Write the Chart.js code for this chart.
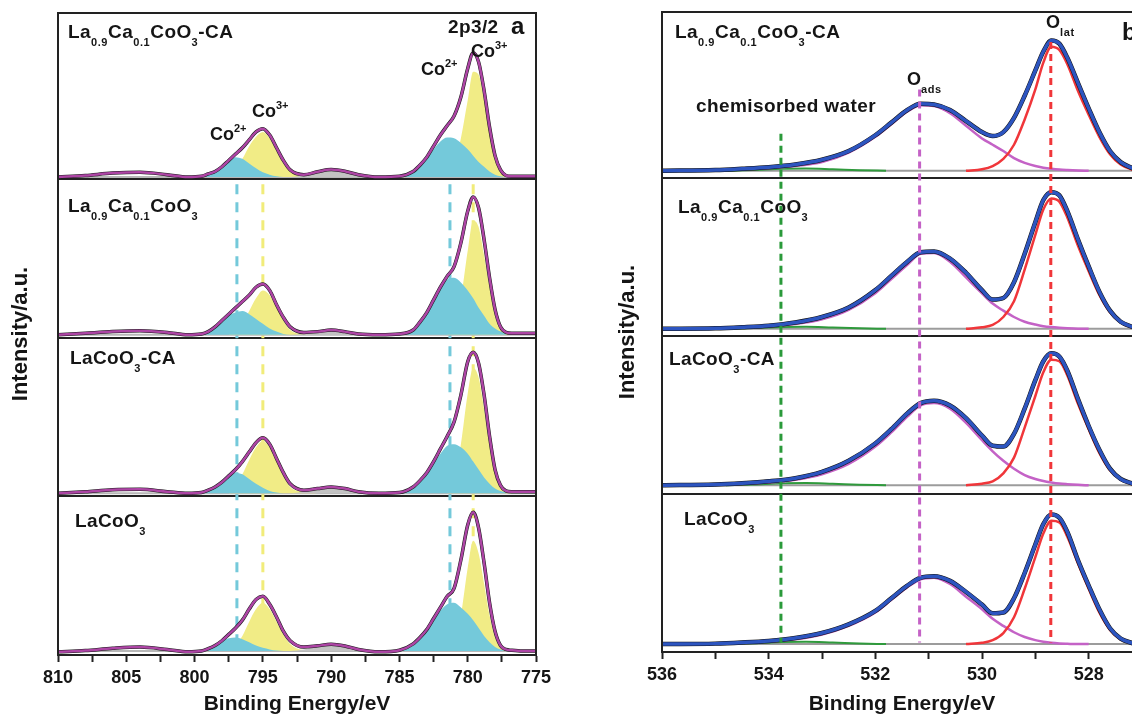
<!DOCTYPE html>
<html>
<head>
<meta charset="utf-8">
<script src="https://cdn.jsdelivr.net/npm/chart.js@4.4.0/dist/chart.umd.min.js"></script>
<style>
  body { margin: 0; width: 1132px; height: 718px; overflow: hidden; background: #fff; position: relative;
         font-family: "Liberation Sans", Arial, sans-serif; color: #151515; }
  canvas { position: absolute; top: 0; }
  #left { left: 0; }
  #right { left: 590px; }
  .t { position: absolute; font-weight: bold; font-size: 19px; line-height: 19px; letter-spacing: 0.4px; white-space: nowrap; }
  .t sub { font-size: 11px; vertical-align: -8px; line-height: 0; letter-spacing: 0.6px; }
  .t sup { font-size: 11px; vertical-align: 8px; line-height: 0; }
  .co { font-size: 18px; line-height: 18px; letter-spacing: 0; }
  .big { font-size: 24px; line-height: 24px; }
</style>
</head>
<body>
<canvas id="left" width="560" height="718"></canvas>
<canvas id="right" width="560" height="718"></canvas>

<!-- panel a labels -->
<div class="t" style="left:68px;top:22px">La<sub>0.9</sub>Ca<sub>0.1</sub>CoO<sub>3</sub>-CA</div>
<div class="t" style="left:68px;top:196px">La<sub>0.9</sub>Ca<sub>0.1</sub>CoO<sub>3</sub></div>
<div class="t" style="left:70px;top:348px">LaCoO<sub>3</sub>-CA</div>
<div class="t" style="left:75px;top:511px">LaCoO<sub>3</sub></div>
<div class="t" style="left:448px;top:17px">2p3/2</div>
<div class="t big" style="left:511px;top:14px">a</div>
<div class="t co" style="left:471px;top:42px">Co<sup>3+</sup></div>
<div class="t co" style="left:421px;top:60px">Co<sup>2+</sup></div>
<div class="t co" style="left:252px;top:102px">Co<sup>3+</sup></div>
<div class="t co" style="left:210px;top:125px">Co<sup>2+</sup></div>

<!-- panel b labels -->
<div class="t" style="left:675px;top:22px">La<sub>0.9</sub>Ca<sub>0.1</sub>CoO<sub>3</sub>-CA</div>
<div class="t" style="left:696px;top:96px">chemisorbed water</div>
<div class="t co" style="left:907px;top:70px">O<sub>ads</sub></div>
<div class="t co" style="left:1046px;top:13px">O<sub>lat</sub></div>
<div class="t big" style="left:1122px;top:20px">b</div>
<div class="t" style="left:678px;top:197px">La<sub>0.9</sub>Ca<sub>0.1</sub>CoO<sub>3</sub></div>
<div class="t" style="left:669px;top:349px">LaCoO<sub>3</sub>-CA</div>
<div class="t" style="left:684px;top:509px">LaCoO<sub>3</sub></div>

<script>
// samples, top to bottom
const samples = ["La0.9Ca0.1CoO3-CA", "La0.9Ca0.1CoO3", "LaCoO3-CA", "LaCoO3"];

// ---- Co 2p (panel a), heights are fractions of one sub-panel ----
const coE = [810, 808, 806, 804, 802, 800.5, 799.5, 799, 798.5, 798, 797.5, 797, 796.5, 796, 795.5, 795, 794.5, 794, 793.5, 793,
  792, 791, 790, 789, 788, 786.5, 785, 784, 783.5, 783, 782.5, 782, 781.5, 781, 780.5, 780, 779.6, 779.2, 778.8, 778.4,
  778, 777.6, 777.2, 776.8, 776, 775];
const coEnvelope = [
  [.015,.025,.04,.045,.03,.015, .02,.035,.05,.08,.12,.16,.20,.25,.30,.32,.28,.20,.12,.06, .03,.048,.062,.052,.03,.015, .02,.05,.09,.14,.21,.28,.34,.40,.52,.70,.80,.74,.56,.33,.15,.06,.025,.02,.02,.02],
  [.02,.03,.04,.045,.035,.02, .025,.04,.07,.11,.15,.19,.23,.27,.32,.34,.30,.21,.13,.07, .035,.04,.05,.04,.025,.02, .025,.05,.10,.16,.24,.32,.39,.45,.60,.80,.89,.82,.62,.38,.18,.07,.035,.03,.03,.03],
  [.02,.03,.042,.045,.03,.02, .025,.04,.06,.09,.13,.17,.22,.28,.34,.37,.33,.24,.15,.08, .04,.05,.06,.05,.03,.02, .025,.06,.10,.15,.22,.30,.38,.47,.64,.85,.91,.84,.64,.38,.17,.07,.035,.03,.03,.03],
  [.02,.028,.042,.05,.035,.02, .025,.04,.06,.09,.13,.17,.22,.29,.35,.37,.32,.24,.15,.09, .05,.058,.068,.057,.035,.02, .03,.07,.11,.16,.23,.30,.37,.42,.60,.82,.90,.80,.58,.33,.15,.06,.035,.03,.025,.025]
];
const coBase = [0.015, 0.02, 0.02, 0.025];

// Co2+ 2p1/2 and 2p3/2 components (cyan)
const co2aE = [799.5, 799, 798.5, 798, 797.5, 797, 796.5, 796, 795.5, 795, 794.5, 794, 793.5, 793];
const co2a = [
  [.015,.03,.06,.09,.125,.14,.13,.10,.07,.045,.03,.02,.015,.015],
  [.02,.04,.07,.10,.14,.16,.17,.15,.12,.09,.06,.04,.025,.02],
  [.02,.035,.06,.09,.13,.15,.14,.11,.08,.055,.035,.025,.02,.02],
  [.025,.04,.06,.085,.105,.11,.10,.08,.06,.045,.035,.028,.025,.025]
];
const co2bE = [785, 784, 783.5, 783, 782.5, 782, 781.5, 781, 780.5, 780, 779.6, 779.2, 778.8, 778.4, 778, 777.6, 777.2];
const co2b = [
  [.015,.04,.08,.13,.19,.24,.265,.26,.23,.19,.15,.11,.08,.05,.03,.02,.015],
  [.02,.045,.09,.15,.23,.31,.37,.38,.35,.30,.25,.19,.14,.09,.06,.04,.025],
  [.02,.05,.09,.14,.21,.27,.32,.33,.31,.27,.22,.17,.12,.08,.05,.035,.025],
  [.025,.06,.10,.15,.22,.28,.32,.33,.30,.26,.22,.17,.12,.08,.05,.035,.025]
];
// Co3+ components (yellow)
const co3aE = [797.5, 797, 796.5, 796, 795.5, 795, 794.5, 794, 793.5, 793, 792, 791];
const co3a = [
  [.03,.07,.13,.21,.27,.30,.26,.18,.10,.05,.02,.015],
  [.025,.04,.09,.17,.25,.30,.27,.19,.11,.05,.025,.02],
  [.03,.07,.14,.23,.31,.35,.31,.22,.13,.06,.03,.02],
  [.03,.06,.12,.21,.29,.33,.29,.21,.13,.07,.03,.025]
];
const co3bE = [781.5, 781, 780.5, 780, 779.6, 779.2, 778.8, 778.4, 778, 777.6, 777.2, 776.8];
const co3b = [
  [.03,.09,.26,.50,.68,.66,.50,.30,.13,.05,.02,.015],
  [.03,.08,.25,.55,.74,.70,.52,.32,.14,.06,.03,.02],
  [.03,.10,.33,.65,.81,.75,.55,.32,.14,.06,.03,.025],
  [.03,.08,.25,.55,.72,.64,.45,.25,.11,.05,.03,.025]
];
// shake-up satellite (grey)
const satE = [793, 792, 791, 790, 789, 788, 786.5];
const sat = [
  [.015,.025,.045,.06,.05,.03,.015],
  [.02,.025,.04,.05,.04,.025,.02],
  [.02,.03,.05,.06,.05,.03,.02],
  [.025,.035,.055,.065,.055,.035,.025]
];
// dashed guide lines (eV)
const coGuide2 = [796.9, 781.3];
const coGuide3 = [795.0, 779.6];

// ---- O 1s (panel b) ----
const oE = [536, 535, 534.5, 534, 533.5, 533, 532.5, 532, 531.7, 531.4, 531.15, 530.9, 530.6, 530.3, 530, 529.8, 529.6, 529.4, 529.2, 529,
  528.85, 528.7, 528.55, 528.4, 528.2, 528, 527.8, 527.6, 527.4, 527.17];
const oEnvelope = [
  [.045,.05,.058,.068,.085,.115,.17,.27,.35,.43,.47,.465,.43,.36,.29,.265,.29,.38,.52,.68,.80,.87,.85,.76,.60,.44,.29,.17,.10,.06],
  [.045,.048,.055,.065,.085,.12,.18,.29,.38,.47,.53,.535,.49,.40,.29,.23,.24,.34,.52,.72,.86,.91,.89,.79,.61,.44,.28,.16,.09,.055],
  [.055,.06,.068,.08,.10,.14,.21,.32,.41,.51,.575,.59,.56,.48,.37,.305,.30,.38,.54,.72,.84,.89,.87,.78,.60,.43,.28,.16,.095,.065],
  [.05,.053,.06,.07,.088,.12,.175,.26,.34,.42,.47,.48,.45,.38,.30,.245,.25,.34,.50,.68,.81,.87,.85,.76,.58,.42,.27,.15,.085,.055]
];
const oAds = [
  [.045,.05,.055,.062,.075,.10,.16,.26,.34,.42,.46,.455,.41,.33,.25,.21,.17,.125,.095,.075,.065,.058,.053,.05,.047,.045,null,null,null,null],
  [.045,.048,.053,.06,.075,.105,.165,.27,.36,.45,.52,.525,.47,.37,.27,.205,.16,.12,.09,.072,.062,.056,.052,.049,.046,.045,null,null,null,null],
  [.055,.058,.063,.072,.09,.125,.19,.30,.39,.49,.56,.575,.54,.45,.34,.27,.21,.16,.12,.095,.082,.073,.066,.062,.058,.055,null,null,null,null],
  [.05,.052,.057,.065,.08,.11,.165,.25,.33,.41,.46,.47,.43,.35,.27,.21,.165,.125,.095,.075,.065,.058,.054,.052,.05,.05,null,null,null,null]
];
const oLat = [
  [null,null,null,null,null,null,null,null,null,null,null,null,null,.045,.055,.075,.12,.21,.37,.56,.73,.83,.81,.72,.55,.40,.26,.15,.085,.05],
  [null,null,null,null,null,null,null,null,null,null,null,null,null,.045,.055,.07,.12,.22,.42,.64,.80,.87,.85,.75,.57,.41,.26,.15,.085,.05],
  [null,null,null,null,null,null,null,null,null,null,null,null,null,.055,.065,.08,.13,.23,.42,.62,.77,.85,.84,.75,.57,.41,.26,.15,.09,.06],
  [null,null,null,null,null,null,null,null,null,null,null,null,null,.05,.058,.075,.12,.22,.40,.60,.75,.83,.82,.73,.56,.40,.25,.14,.08,.055]
];
const oWaterE = [534.8, 534.3, 533.75, 533.3, 532.8, 532.3, 531.8];
const oWater = [
  [.045,.05,.058,.06,.055,.049,.045],
  [.045,.05,.057,.058,.053,.048,.045],
  [.055,.06,.068,.07,.065,.059,.055],
  [.05,.055,.063,.065,.06,.054,.05]
];
const oBase = [0.045, 0.045, 0.055, 0.05];
const oGuideE = [533.77, 531.17, 528.71];
const oGuideTop = [3.28, 3.56, 3.86];

// ---- helpers ----
Chart.defaults.font.family = "'Liberation Sans', Arial, sans-serif";
Chart.defaults.color = "#151515";

function pts(xs, ys, off) {
  return xs.map((x, i) => ({ x: x, y: ys[i] == null ? null : ys[i] + off }));
}
function curve(data, color, width, order, fillTo) {
  return {
    data: data, borderColor: color, borderWidth: width, pointRadius: 0, order: order,
    cubicInterpolationMode: "monotone", spanGaps: false,
    fill: fillTo == null ? false : { value: fillTo }, backgroundColor: color
  };
}
function guide(x, top, bottom, color, dash, order) {
  return {
    data: [{ x: x, y: top }, { x: x, y: bottom }], borderColor: color, borderWidth: 3,
    borderDash: dash, pointRadius: 0, order: order, fill: false
  };
}

const frame = {
  id: "frame",
  afterDatasetsDraw(chart) {
    const { ctx, chartArea: a } = chart;
    ctx.save();
    ctx.strokeStyle = "#222";
    ctx.lineWidth = 2;
    ctx.strokeRect(a.left, a.top, a.right - a.left, a.bottom - a.top);
    ctx.restore();
  }
};

function scales(min, max, step, major, xHeight, yWidth, titlePad) {
  return {
    x: {
      type: "linear", reverse: true, min: min, max: max,
      ticks: {
        stepSize: step, autoSkip: false, maxRotation: 0, padding: 5,
        font: { size: 18, weight: "bold" },
        callback: v => (Math.abs(v % major) < 1e-6 ? v : "")
      },
      grid: { drawOnChartArea: false, tickLength: 7, tickWidth: 2, tickColor: "#222" },
      border: { color: "#222", width: 2 },
      title: { display: true, text: "Binding Energy/eV", font: { size: 21, weight: "bold" }, padding: { top: 2, bottom: 1 } },
      afterFit: s => { s.height = xHeight; }
    },
    y: {
      min: 0, max: 4.05,
      ticks: { display: false, stepSize: 1 },
      grid: {
        drawTicks: false, lineWidth: 2,
        color: c => ([1, 2, 3].includes(c.tick.value) ? "#222" : "rgba(0,0,0,0)")
      },
      border: { color: "#222", width: 2 },
      title: { display: true, text: "Intensity/a.u.", font: { size: 22, weight: "bold" }, padding: { top: titlePad } },
      afterFit: s => { s.width = yWidth; }
    }
  };
}

// ---- panel a datasets (cyan drawn over yellow) ----
const leftSets = [];
samples.forEach((name, i) => {
  const off = 3 - i;
  const base = off + coBase[i];
  leftSets.push(curve([{ x: coE[0], y: base }, { x: coE[coE.length - 1], y: base }], "#b8b8b8", 2, 9));
  leftSets.push(curve(pts(co3aE, co3a[i], off), "#f1ec86", 0, 8, base));
  leftSets.push(curve(pts(co3bE, co3b[i], off), "#f1ec86", 0, 8, base));
  leftSets.push(curve(pts(co2aE, co2a[i], off), "#74c9da", 0, 7, base));
  leftSets.push(curve(pts(co2bE, co2b[i], off), "#74c9da", 0, 7, base));
  leftSets.push(curve(pts(satE, sat[i], off), "#c3c3c3", 0, 6, base));
  leftSets.push(curve(pts(coE, coEnvelope[i], off), "#1a1a1a", 3.5, 5));
  leftSets.push(curve(pts(coE, coEnvelope[i], off), "#ad45a5", 2.5, 4));
});
coGuide2.forEach(e => leftSets.push(guide(e, 2.97, 0.02, "#74c9da", [10, 8], 10)));
coGuide3.forEach(e => leftSets.push(guide(e, 2.97, 0.03, "#f1ec7a", [10, 8], 10)));

new Chart(document.getElementById("left"), {
  type: "line",
  data: { datasets: leftSets },
  options: {
    responsive: false, animation: false, devicePixelRatio: 1,
    layout: { padding: { left: 0, right: 24, top: 13, bottom: 0 } },
    plugins: { legend: { display: false }, tooltip: { enabled: false } },
    scales: scales(775, 810, 2.5, 5, 63, 58, 8)
  },
  plugins: [frame]
});

// ---- panel b datasets ----
const rightSets = [];
samples.forEach((name, i) => {
  const off = 3 - i;
  const base = off + oBase[i];
  rightSets.push(curve([{ x: oE[0], y: base }, { x: oE[oE.length - 1], y: base }], "#9c9c9c", 2, 9));
  rightSets.push(curve(pts(oWaterE, oWater[i], off), "#2f9a3c", 2, 8));
  rightSets.push(curve(pts(oE, oAds[i], off), "#c462c6", 2.5, 7));
  rightSets.push(curve(pts(oE, oLat[i], off), "#f0363a", 2.5, 6));
  rightSets.push(curve(pts(oE, oEnvelope[i], off), "#111", 4.5, 5));
  rightSets.push(curve(pts(oE, oEnvelope[i], off), "#2d55c0", 3.5, 4));
});
const oColors = ["#2a9a3a", "#c462c6", "#f0363a"];
oGuideE.forEach((e, k) => rightSets.push(guide(e, oGuideTop[k], 0.06, oColors[k], [7, 5], 1)));

new Chart(document.getElementById("right"), {
  type: "line",
  data: { datasets: rightSets },
  options: {
    responsive: false, animation: false, devicePixelRatio: 1,
    layout: { padding: { left: 0, right: 8, top: 12, bottom: 0 } },
    plugins: { legend: { display: false }, tooltip: { enabled: false } },
    scales: scales(527, 536, 1, 2, 66, 72, 25)
  },
  plugins: [frame]
});
</script>
</body>
</html>
